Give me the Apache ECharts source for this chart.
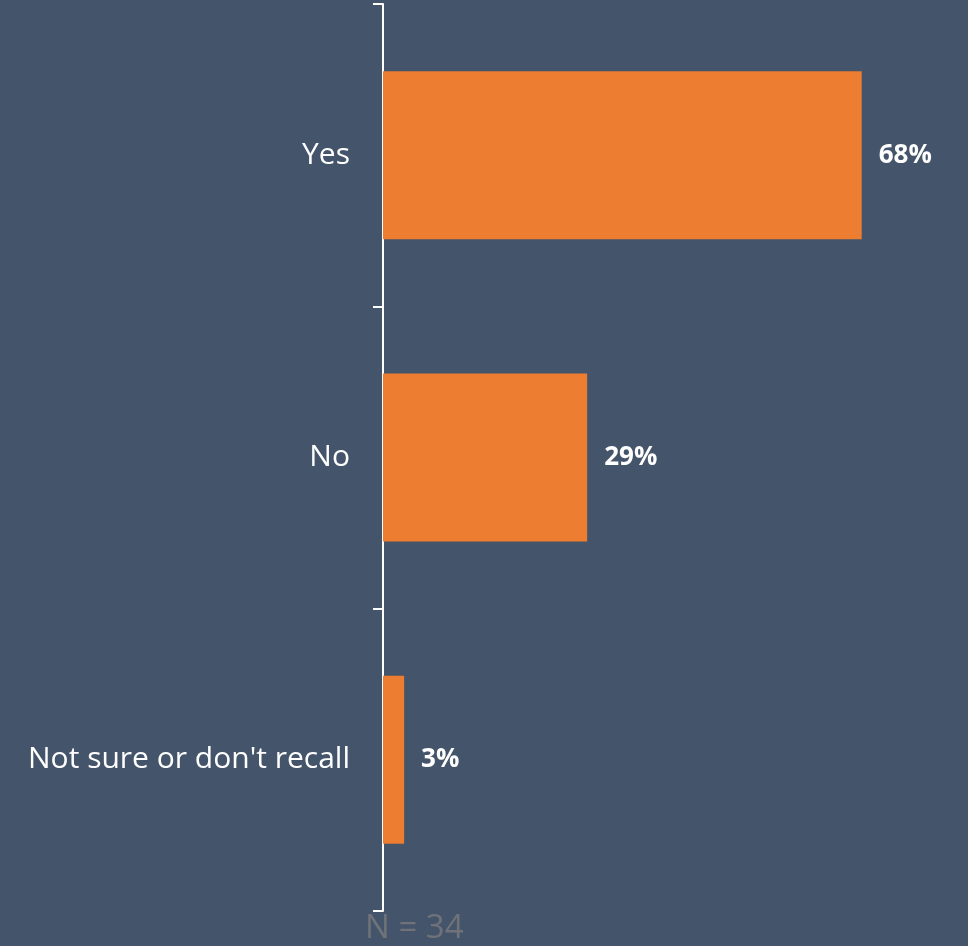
<!DOCTYPE html>
<html>
<head>
<meta charset="utf-8">
<script src="https://cdn.jsdelivr.net/npm/echarts@6/dist/echarts.min.js"></script>
<style>
  html, body { margin: 0; padding: 0; background: #44546A; }
  #chart { width: 968px; height: 946px; }
</style>
</head>
<body>
<div id="chart"></div>
<script>
// Survey answers, top to bottom
const categories = ['Yes', 'No', "Not sure or don't recall"];
const shares = [68, 29, 3];
const sampleNote = 'N = 34';

const chart = echarts.init(document.getElementById('chart'));
const font = '"Open Sans", sans-serif';

chart.setOption({
  backgroundColor: '#44546A',
  animation: false,
  grid: { left: 383, right: 0, top: 4, bottom: 35, containLabel: false },
  xAxis: {
    type: 'value', min: 0, max: 83.1,
    show: false
  },
  yAxis: {
    type: 'category',
    inverse: true,
    data: categories,
    axisLine: { show: true, lineStyle: { color: '#FFFFFF', width: 2 } },
    axisTick: { show: true, length: 10, lineStyle: { color: '#FFFFFF', width: 2 } },
    axisLabel: { color: '#FFFFFF', fontFamily: font, fontSize: 30, margin: 33 },
    splitLine: { show: false }
  },
  series: [{
    type: 'bar',
    data: shares,
    barWidth: 168,
    itemStyle: { color: '#ED7D31' },
    label: {
      show: true, position: 'right', distance: 17,
      formatter: p => p.value + '%',
      color: '#FFFFFF', fontFamily: font, fontWeight: 'bold', fontSize: 26
    }
  }],
  graphic: [{
    type: 'text', left: 365, top: 912,
    style: { text: sampleNote, fill: '#6F7379', font: '33px "Open Sans", sans-serif' }
  }]
});
</script>
</body>
</html>
